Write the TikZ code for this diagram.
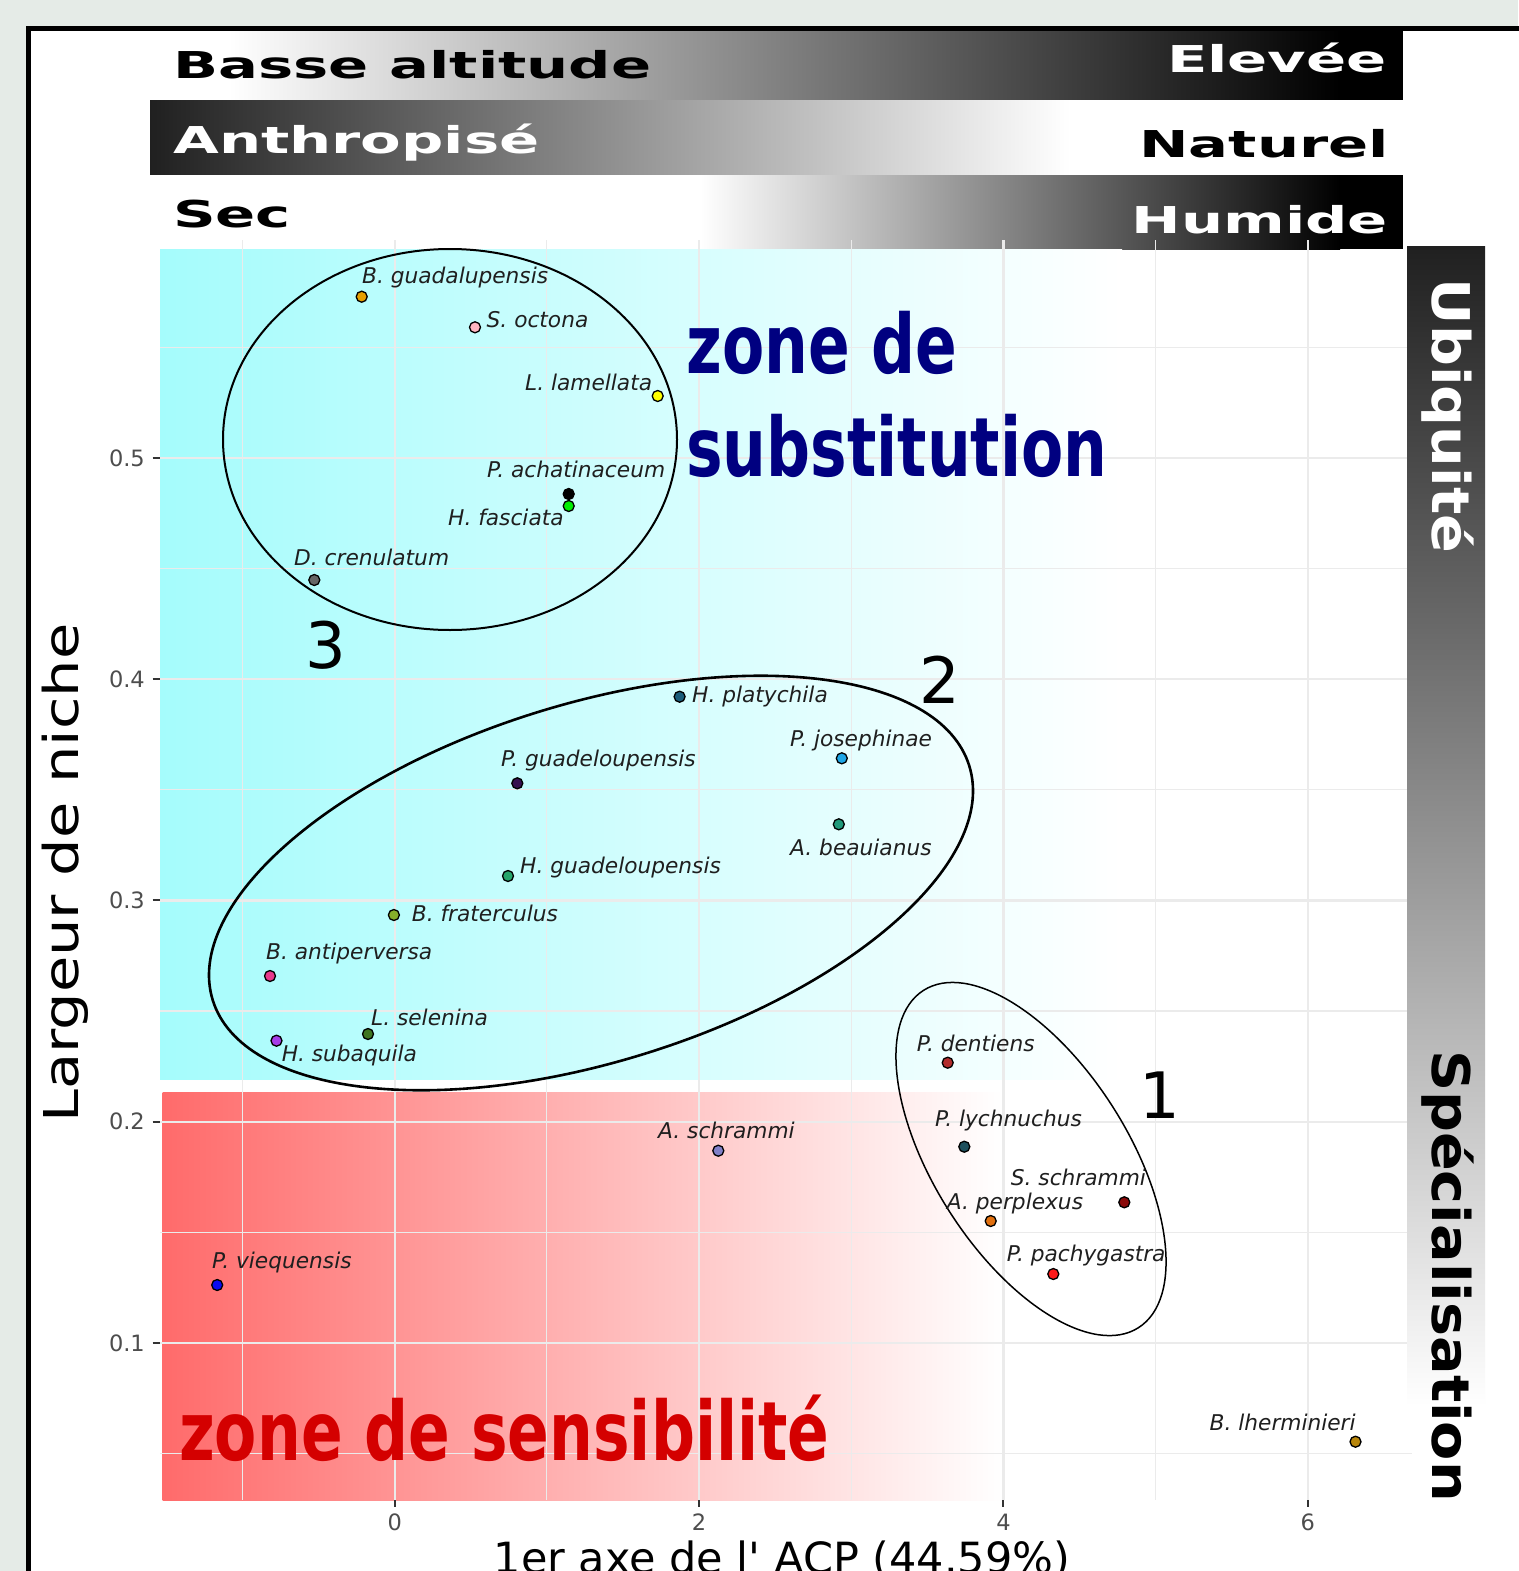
\documentclass[tikz,border=0pt]{standalone}
\usepackage{fontspec}
\setmainfont{DejaVu Sans}[ItalicFont={DejaVu Sans Oblique},BoldFont={DejaVu Sans Bold}]

\definecolor{bggray}{RGB}{229,235,231}
\definecolor{bardark}{RGB}{32,32,32}
\definecolor{zcyan}{RGB}{165,252,252}
\definecolor{zred}{RGB}{255,107,107}
\definecolor{zblue}{RGB}{0,0,128}
\definecolor{zsens}{RGB}{212,0,0}
\definecolor{gridgray}{RGB}{235,235,235}
\definecolor{tickgray}{RGB}{77,77,77}
\definecolor{cbgua}{HTML}{E69F00}
\definecolor{csoct}{HTML}{FFB6C1}
\definecolor{cllam}{HTML}{FFFF00}
\definecolor{cpach}{HTML}{000000}
\definecolor{chfas}{HTML}{00EE00}
\definecolor{cdcre}{HTML}{666666}
\definecolor{chpla}{HTML}{1B5C7A}
\definecolor{cpjos}{HTML}{1EA6E6}
\definecolor{cpgua}{HTML}{36104F}
\definecolor{cabea}{HTML}{20997A}
\definecolor{chgua}{HTML}{25A56B}
\definecolor{cbfra}{HTML}{86AE2A}
\definecolor{cbant}{HTML}{E8398C}
\definecolor{clsel}{HTML}{3F7521}
\definecolor{chsub}{HTML}{A63CE8}
\definecolor{cpden}{HTML}{B22C2C}
\definecolor{cplyc}{HTML}{1D4F5C}
\definecolor{cssch}{HTML}{8B0A0A}
\definecolor{caper}{HTML}{E2700F}
\definecolor{cppac}{HTML}{FF1A1A}
\definecolor{casch}{HTML}{8080C8}
\definecolor{cpvie}{HTML}{0A0AF0}
\definecolor{cbihe}{HTML}{B8860B}

\begin{document}
\begin{tikzpicture}[x=1pt,y=-1pt,
  dot/.style={circle,draw=black,line width=1.3pt,inner sep=0pt,minimum size=11pt},
  lab/.style={font=\fontsize{21.7}{26}\selectfont\itshape,text=black!88,inner sep=0pt,anchor=base west},
  gmaj/.style={gridgray,line width=2.2pt},
  gmin/.style={gridgray,line width=1.2pt},
  tickmark/.style={black!80,line width=2pt},
  ticklab/.style={font=\fontsize{22.5}{26}\selectfont,text=tickgray,inner sep=0pt},
  bartxt/.style={font=\fontsize{37}{40}\selectfont\bfseries,inner sep=0pt},
  sidetxt/.style={font=\fontsize{52}{56}\selectfont\bfseries,inner sep=0pt,rotate=-90,anchor=base},
  zone/.style={font=\fontsize{82}{90}\selectfont\bfseries,inner sep=0pt,anchor=base west},
  grp/.style={font=\fontsize{64}{70}\selectfont,inner sep=0pt,anchor=base}]
\useasboundingbox (0,0) rectangle (1518,1571);
\fill[bggray] (0,0) rectangle (1518,1571);
\fill[white] (28.3,28.3) rectangle (1540,1600);
% bandeaux
\shade[left color=white,right color=black] (228,30) rectangle (1340,99.5);
\fill[black] (1339,30) rectangle (1403,99.5);
\shade[left color=bardark,right color=white] (150,100) rectangle (1070,174.5);
\shade[left color=white,right color=black] (700,175) rectangle (1340,249);
\fill[black] (1339,175) rectangle (1403,249);
\draw[line width=5pt] (28.3,1600) -- (28.3,28.3) -- (1540,28.3);
\node[bartxt,anchor=base west] (basse) at (173,78.3) {\scalebox{1.6}[1]{Basse altitude}};
\node[bartxt,anchor=base east,text=white] (elev) at (1387,72) {\scalebox{1.6}[1]{Elevée}};
\node[bartxt,anchor=base west,text=white] (anth) at (173,153) {\scalebox{1.6}[1]{Anthropisé}};
\node[bartxt,anchor=base east] (natu) at (1389,157) {\scalebox{1.6}[1]{Naturel}};
\node[bartxt,anchor=base west] (sec) at (173,227.5) {\scalebox{1.6}[1]{Sec}};
\node[bartxt,anchor=base east,text=white] (humi) at (1388,233) {\scalebox{1.6}[1]{Humide}};
% zones
\shade[left color=zcyan,right color=white] (160,249) rectangle (1122,1079);
\shade[left color=zred,right color=white] (162.6,1092.7) rectangle (1002,1500);
% grille
\foreach \gx in {242.5,546.8,851.2,1155.6}
  \draw[gmin] (\gx,240) -- (\gx,1500);
\foreach \gy in {347.2,568.5,789.7,1011,1232.4,1453.7}
  \draw[gmin] (160,\gy) -- (1412,\gy);
\foreach \gx/\xl in {394.7/0,699/2,1003.4/4,1307.8/6}{
  \draw[gmaj] (\gx,240) -- (\gx,1500);
  \draw[tickmark] (\gx,1500) -- (\gx,1507);
  \node[ticklab,anchor=base] (xt\xl) at (\gx,1530) {\xl};
}
\foreach \gy/\yl/\k in {457.8/0.5/5,679.1/0.4/4,900.4/0.3/3,1121.7/0.2/2,1343/0.1/1}{
  \draw[gmaj] (160,\gy) -- (1412,\gy);
  \draw[tickmark] (152.7,\gy) -- (159.5,\gy);
  \node[ticklab,anchor=base east] (yt\k) at (145,\gy+8.2) {\yl};
}
% barre de droite
\shade[top color=bardark,bottom color=white] (1407,246) rectangle (1485,1406);
\node[sidetxt,text=white] (ubiq) at (1432,416) {\scalebox{1.1}[1]{Ubiquité}};
\node[sidetxt] (spec) at (1432,1276) {\scalebox{1.1}[1]{Spécialisation}};
% titres des axes
\node[font=\fontsize{48}{52}\selectfont,rotate=90,anchor=base,inner sep=0pt] (ytitle) at (78,873) {\scalebox{1.23}[1]{Largeur de niche}};
\node[font=\fontsize{43}{48}\selectfont,anchor=base,inner sep=0pt] (xtitle) at (782,1573) {1er axe de l\textquotesingle{} ACP (44.59\%)};
% textes des zones
\node[zone,text=zblue] (zsub1) at (686,373) {\scalebox{0.75}[1]{zone de}};
\node[zone,text=zblue] (zsub2) at (686,476) {\scalebox{0.75}[1]{substitution}};
\node[zone,text=zsens] (zsen) at (179,1460) {\scalebox{0.75}[1]{zone de sensibilité}};
% groupes
\draw[line width=2pt] (450,439.5) ellipse [x radius=227,y radius=190.5];
\draw[line width=2.6pt,rotate around={17.2:(591,883)}] (591,883) ellipse [x radius=396,y radius=179];
\draw[line width=1.5pt,rotate around={-57.5:(1031,1159)}] (1031,1159) ellipse [x radius=200,y radius=97];
\node[grp] (g3) at (326,668) {3};
\node[grp] (g2) at (940,703) {2};
\node[grp] (g1) at (1160,1118) {1};
% especes
\foreach \nm/\px/\py/\lx/\ly/\txt in {
  bgua/361.7/296.7/362/283/B. guadalupensis,
  soct/475/327.3/486.5/327.3/S. octona,
  llam/657.7/396/525/390/L. lamellata,
  pach/568.7/494/487/477/P. achatinaceum,
  hfas/568.7/506/448/525/H. fasciata,
  dcre/314.3/580/294/565/D. crenulatum,
  hpla/679.6/696.7/692/702.7/H. platychila,
  pjos/841.8/758.3/790/746/P. josephinae,
  pgua/517.3/783.3/501/766/P. guadeloupensis,
  abea/838.8/824.3/790/855/A. beauianus,
  hgua/508/876/520/873/H. guadeloupensis,
  bfra/393.9/915/411.7/921/B. fraterculus,
  bant/270/976/266/959/B. antiperversa,
  lsel/368/1034/371/1025/L. selenina,
  hsub/276.5/1040.7/281.6/1061.7/H. subaquila,
  pden/947.7/1062.7/916.7/1051.7/P. dentiens,
  plyc/964.3/1146.7/935/1126.7/P. lychnuchus,
  ssch/1124.3/1202.3/1010.7/1185/S. schrammi,
  aper/990.7/1221/946.7/1209.3/A. perplexus,
  ppac/1053.3/1274/1006.7/1261.7/P. pachygastra,
  asch/718.3/1150.7/658/1138.3/A. schrammi,
  pvie/217.2/1285/212/1268.3/P. viequensis,
  bihe/1355.5/1441.7/1209.5/1430/B. lherminieri}{
  \node[dot,fill=c\nm] (\nm) at (\px,\py) {};
  \node[lab] (\nm-l) at (\lx,\ly) {\txt};
}
\end{tikzpicture}
\end{document}
